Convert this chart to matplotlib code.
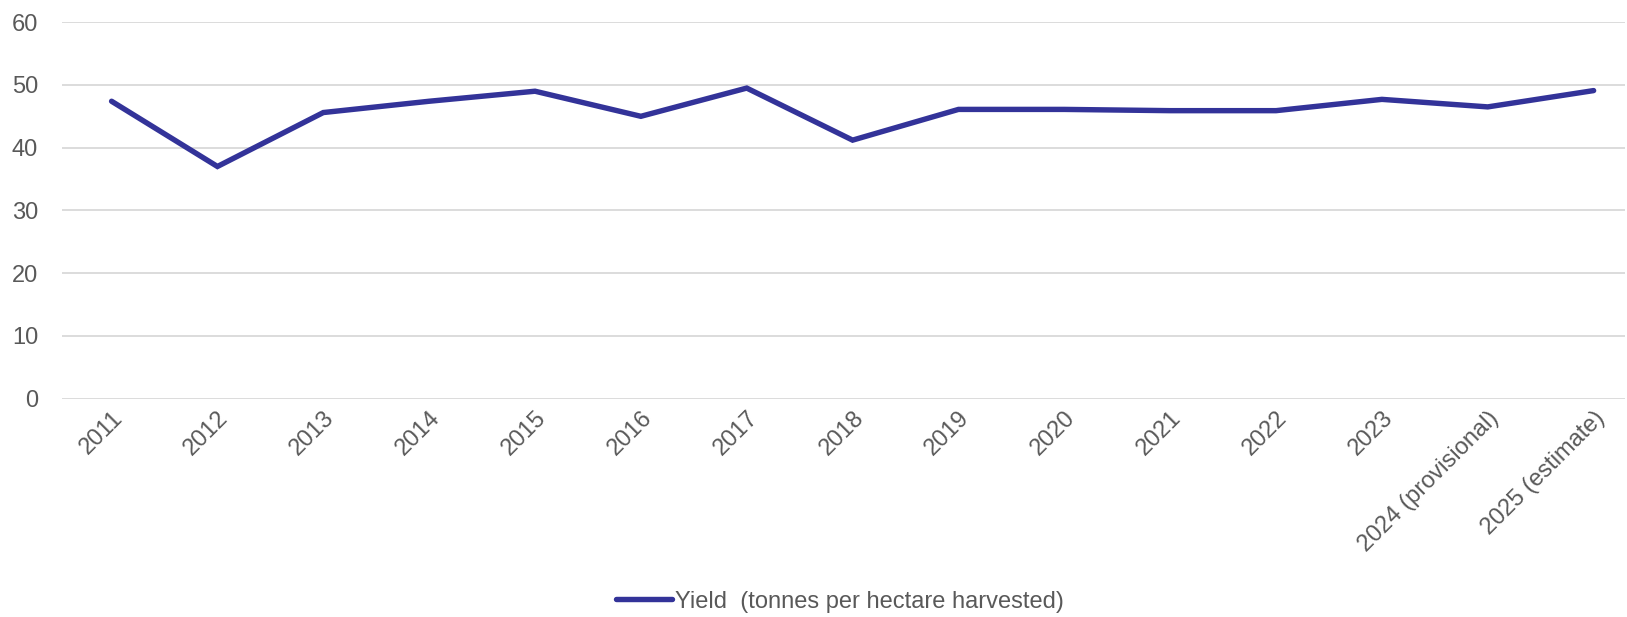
import matplotlib
matplotlib.use("Agg")
import matplotlib.pyplot as plt

plt.rcParams['font.family'] = ['Liberation Sans', 'DejaVu Sans']

# potato yield
years = ["2011", "2012", "2013", "2014", "2015", "2016", "2017", "2018", "2019",
         "2020", "2021", "2022", "2023", "2024 (provisional)", "2025 (estimate)"]
yield_t_ha = [47.4, 37.0, 45.6, 47.4, 49.0, 45.0, 49.5, 41.2, 46.1,
              46.1, 45.9, 45.9, 47.7, 46.5, 49.1]
yticks = [0, 10, 20, 30, 40, 50, 60]

grey = "#595959"

fig = plt.figure(figsize=(16.27, 6.17), dpi=100)
ax = fig.add_axes([0.038, 0.354, 0.961, 0.61])

x = list(range(len(years)))
ax.plot(x, yield_t_ha, color="#333399", linewidth=3.9, solid_capstyle="round",
        solid_joinstyle="miter", label="Yield  (tonnes per hectare harvested)", zorder=3)

ax.set_xlim(-0.47, len(years) - 0.7)
ax.set_ylim(0, 60)
ax.set_yticks(yticks)
ax.set_xticks(x)
ax.set_xticklabels(years, rotation=45, ha="right", rotation_mode="anchor")
ax.tick_params(axis="both", length=0, labelsize=17, labelcolor=grey)
ax.tick_params(axis="y", pad=17)
ax.tick_params(axis="x", pad=6)

ax.grid(axis="y", color="#d9d9d9", linewidth=1.3)
ax.set_axisbelow(True)
for s in ax.spines.values():
    s.set_visible(False)

leg = fig.legend(loc="center", bbox_to_anchor=(0.516, 0.025), frameon=False,
                 fontsize=17, handlelength=2.4, handletextpad=0.1)
for t in leg.get_texts():
    t.set_color(grey)

fig.savefig("out.png", dpi=100)
